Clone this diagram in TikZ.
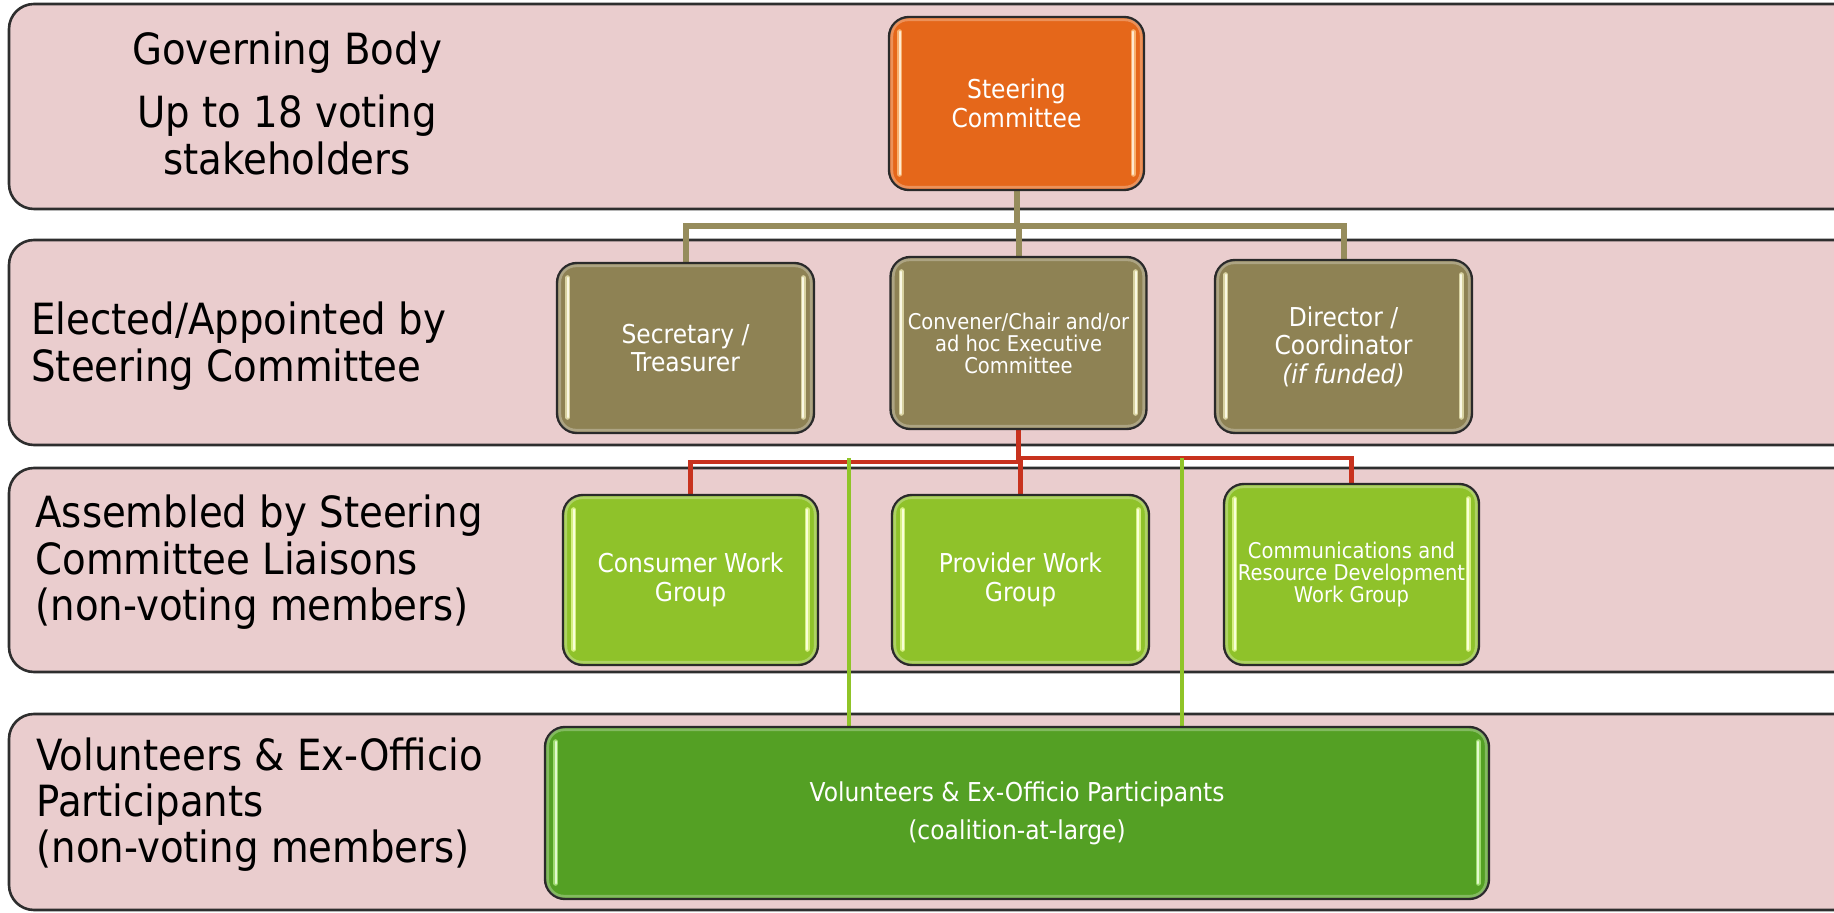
\documentclass[tikz,border=0pt]{standalone}
\usepackage{fontspec}
\setmainfont{DejaVu Sans}[FakeStretch=0.9]
\usetikzlibrary{calc}

\definecolor{bandfill}{HTML}{EACDCE}
\definecolor{bandline}{HTML}{2E2E2E}
\definecolor{boxline}{HTML}{2A2A2A}
\definecolor{orangefill}{HTML}{E5671A}
\definecolor{olivefill}{HTML}{8E8254}
\definecolor{limefill}{HTML}{8FC22A}
\definecolor{grassfill}{HTML}{54A024}
\definecolor{orangeshine}{HTML}{FFC98A}
\definecolor{oliveshine}{HTML}{F2EDBB}
\definecolor{limeshine}{HTML}{EEFFA0}
\definecolor{grassshine}{HTML}{B6EE86}
\definecolor{olivelinkc}{HTML}{968C5C}
\definecolor{redlinkc}{HTML}{C8321E}
\definecolor{greenlinkc}{HTML}{90C428}

\pgfdeclarelayer{bands}
\pgfdeclarelayer{links}
\pgfsetlayers{bands,links,main}

\tikzset{
  band/.style={fill=bandfill, draw=bandline, line width=1.3pt, rounded corners=12.5pt},
  bandlabel/.style={inner sep=0pt, text=black, font=\fontsize{21.5}{22.5}\selectfont},
  orgbox/.style={draw=boxline, line width=1.2pt, rounded corners=10pt, inner sep=0pt,
    text=white, align=center, font=\fontsize{13}{14.25}\selectfont},
  smalltext/.style={font=\fontsize{10.85}{11}\selectfont},
  olivelink/.style={draw=olivelinkc, line width=3pt},
  redlink/.style={draw=redlinkc, line width=2.3pt},
  greenlink/.style={draw=greenlinkc, line width=2.4pt},
}

% glossy edge strips and inner rim of a box: #1 node name, #2 strip colour
\newcommand\boxshine[2]{%
  \draw[white, opacity=0.28, line width=1.4pt, rounded corners=8pt]
    ($(#1.north west)+(4,4)$) rectangle ($(#1.south east)+(-4,-4)$);
  \foreach \side/\dx in {west/12, east/-12}{
    \draw[#2, line width=2.6pt, line cap=round, opacity=0.75]
      ($(#1.north \side)+(\dx,16)$) -- ($(#1.south \side)+(\dx,-17)$);
    \draw[#2!40!white, line width=1.1pt, line cap=round]
      ($(#1.north \side)+(\dx,16)$) -- ($(#1.south \side)+(\dx,-17)$);
  }%
}

\begin{document}
\begin{tikzpicture}[x=0.5pt, y=-0.5pt]
\useasboundingbox (0,0) rectangle (1834,913);
\clip (0,0) rectangle (1834,913);

% horizontal bands
\begin{pgfonlayer}{bands}
\path[band] (9,4)   rectangle (1900,209);
\path[band] (9,240) rectangle (1900,445);
\path[band] (9,468) rectangle (1900,672);
\path[band] (9,714) rectangle (1900,910);
\end{pgfonlayer}

% band captions
\node[bandlabel, anchor=base] (gov) at (287,65) {Governing Body};
\node[bandlabel, anchor=base] (govsub) at (287,128)
  {\begin{tabular}[t]{@{}c@{}}Up to 18 voting\\stakeholders\end{tabular}};
\node[bandlabel, anchor=base west] (elected) at (31,335)
  {\begin{tabular}[t]{@{}l@{}}Elected/Appointed by\\Steering Committee\end{tabular}};
\node[bandlabel, anchor=base west] (assembled) at (35,528)
  {\begin{tabular}[t]{@{}l@{}}Assembled by Steering\\Committee Liaisons\\(non-voting members)\end{tabular}};
\node[bandlabel, anchor=base west] (volcap) at (36,770)
  {\begin{tabular}[t]{@{}l@{}}Volunteers \& Ex-Officio\\Participants\\(non-voting members)\end{tabular}};

% organisation boxes
\node[orgbox, fill=orangefill, minimum width=127.5pt, minimum height=86.5pt] (sc) at (1016.5,103.5)
  {Steering\\Committee};
\node[orgbox, fill=olivefill, minimum width=128.5pt, minimum height=85pt] (sec) at (685.5,348)
  {Secretary /\\Treasurer};
\node[orgbox, smalltext, fill=olivefill, minimum width=128pt, minimum height=86pt] (conv) at (1018.5,343)
  {Convener/Chair and/or\\ad hoc Executive\\Committee};
\node[orgbox, fill=olivefill, minimum width=128.5pt, minimum height=86.5pt] (dir) at (1343.5,346.5)
  {Director /\\Coordinator\\\textit{(if funded)}};
\node[orgbox, fill=limefill, minimum width=127.5pt, minimum height=85pt] (cons) at (690.5,580)
  {Consumer Work\\Group};
\node[orgbox, fill=limefill, minimum width=128.5pt, minimum height=85pt] (prov) at (1020.5,580)
  {Provider Work\\Group};
\node[orgbox, smalltext, fill=limefill, minimum width=127.5pt, minimum height=90.5pt] (comm) at (1351.5,574.5)
  {Communications and\\Resource Development\\Work Group};
\node[orgbox, fill=grassfill, minimum width=472pt, minimum height=86pt,
  font=\fontsize{13}{19}\selectfont] (vol) at (1017,813)
  {Volunteers \& Ex-Officio Participants\\(coalition-at-large)};

% gloss on the boxes
\boxshine{sc}{orangeshine}
\boxshine{sec}{oliveshine}
\boxshine{conv}{oliveshine}
\boxshine{dir}{oliveshine}
\boxshine{cons}{limeshine}
\boxshine{prov}{limeshine}
\boxshine{comm}{limeshine}
\boxshine{vol}{grassshine}

% connectors, kept behind the boxes
\begin{pgfonlayer}{links}
% steering committee to officers
\coordinate (oj) at ($(sc.south)+(0,35)$);
\draw[olivelink] (sc.south) -- (oj);
\draw[olivelink] (sec.north) |- (oj) -| (dir.north);
\draw[olivelink] (oj) -| (conv.north);

% convener to work groups
\coordinate (rj) at ($(conv.south)+(0,32)$);
\coordinate (rk) at ($(conv.south)+(0,28)$);
\draw[redlink] (conv.south) -- (rj) -| (cons.north);
\draw[redlink] (rk) -| (comm.north);
\draw[redlink] (rk -| prov.north) -- (prov.north);

% down to the coalition at large
\coordinate (g1) at (849,458);
\coordinate (g2) at (1182,458);
\draw[greenlink] (g1) -- (g1 |- vol.north);
\draw[greenlink] (g2) -- (g2 |- vol.north);
\end{pgfonlayer}
\end{tikzpicture}
\end{document}
